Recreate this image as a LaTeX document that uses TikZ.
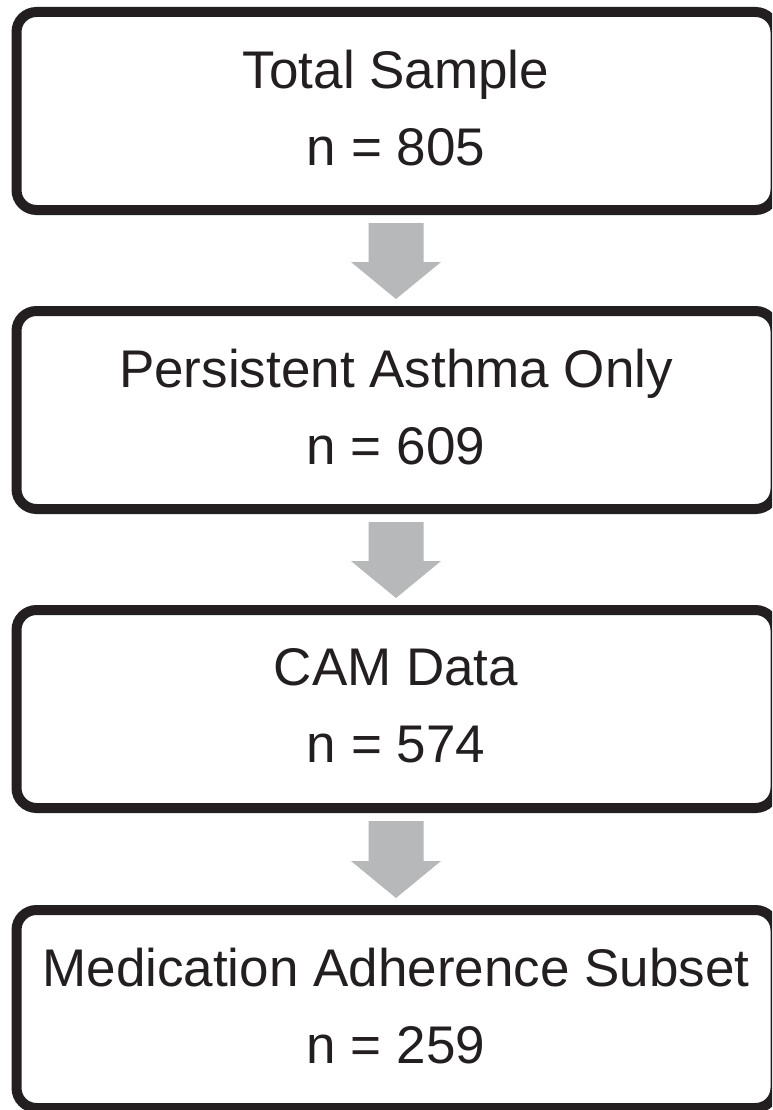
\documentclass[tikz,border=0pt]{standalone}
\usepackage{fontspec}
\setmainfont{Liberation Sans}
\usetikzlibrary{calc}
\definecolor{boxblack}{RGB}{35,31,32}
\definecolor{arrowgray}{RGB}{183,184,186}
\tikzset{
  stagebox/.style={draw=boxblack, line width=10pt, rounded corners=20pt, fill=white,
    minimum width=759pt, minimum height=198pt, inner sep=0pt, align=center,
    text=boxblack, font=\fontsize{53}{77}\selectfont, text depth=7pt},
  blockarrow/.style={fill=arrowgray, draw=none}
}
\begin{document}
\begin{tikzpicture}[x=1pt,y=-1pt]
\clip (0,0) rectangle (772,1110);
\fill[white] (0,0) rectangle (772,1110);
\node[stagebox] (b1) at (396,111) {Total Sample\\n = 805};
\node[stagebox] (b2) at (396,410) {Persistent Asthma Only\\n = 609};
\node[stagebox] (b3) at (396,709) {CAM Data\\n = 574};
\node[stagebox] (b4) at (396,1009) {Medication Adherence Subset\\n = 259};
\foreach \a/\b in {b1/b2,b2/b3,b3/b4}{
  \fill[blockarrow] ($(\a.south)+(-27.5,8)$) -- ($(\a.south)+(27.5,8)$)
    -- ($(\b.north)+(27.5,-44)$) -- ($(\b.north)+(45,-44)$)
    -- ($(\b.north)+(0,-7)$) -- ($(\b.north)+(-45,-44)$)
    -- ($(\b.north)+(-27.5,-44)$) -- cycle;
}
\end{tikzpicture}
\end{document}
